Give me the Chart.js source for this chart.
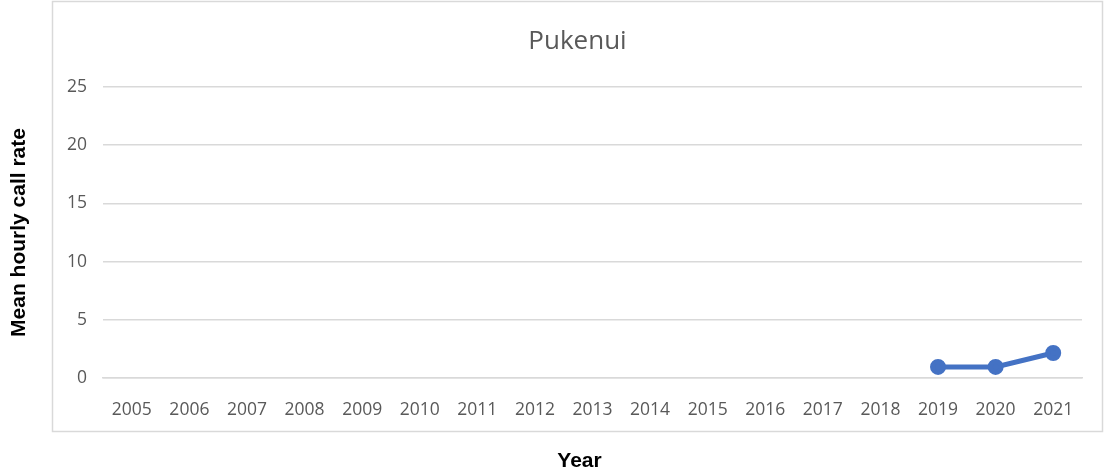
<!DOCTYPE html>
<html lang="en">
<head>
  <meta charset="UTF-8">
  <title>Pukenui - Mean hourly call rate</title>
  <script src="https://cdn.jsdelivr.net/npm/chart.js"></script>
  <style>
    html, body {
      margin: 0;
      padding: 0;
      background: #fff;
    }
    #wrap {
      width: 1105px;
      height: 472px;
    }
  </style>
</head>
<body>
  <div id="wrap"><canvas id="callChart"></canvas></div>

  <script>
    const years = ['2005', '2006', '2007', '2008', '2009', '2010', '2011', '2012', '2013',
                   '2014', '2015', '2016', '2017', '2018', '2019', '2020', '2021'];
    // surveys only started at this site in 2019
    const callRate = [null, null, null, null, null, null, null, null, null,
                      null, null, null, null, null, 0.95, 0.95, 2.15];
    const yTicks = [0, 5, 10, 15, 20, 25];

    const tickColor = '#595959';
    const gridColor = '#d9d9d9';
    const frame = { left: 52.5, top: 1.5, width: 1050, height: 430 };

    // light frame around the plot; chart title centred in the frame,
    // "Year" sits below it, outside the frame
    const framePlugin = {
      id: 'frame',
      beforeDraw(chart) {
        const c = chart.ctx;
        c.save();
        c.fillStyle = '#fff';
        c.fillRect(0, 0, chart.width, chart.height);
        c.strokeStyle = gridColor;
        c.lineWidth = 1.5;
        c.strokeRect(frame.left, frame.top, frame.width, frame.height);
        c.restore();
      },
      afterDraw(chart) {
        const c = chart.ctx;
        const cx = frame.left + frame.width / 2;
        c.save();
        c.textAlign = 'center';
        c.textBaseline = 'middle';
        c.fillStyle = tickColor;
        c.font = '26px "Open Sans"';
        c.fillText('Pukenui', cx, 42);
        c.fillStyle = '#000';
        c.font = 'bold 21px "Liberation Sans"';
        c.fillText('Year', cx + 2, 461);
        c.restore();
      }
    };

    const ctx = document.getElementById('callChart').getContext('2d');

    const callChart = new Chart(ctx, {
      type: 'line',
      data: {
        labels: years,
        datasets: [{
          label: 'Pukenui',
          data: callRate,
          borderColor: '#4472c4',
          backgroundColor: '#4472c4',
          borderWidth: 5,
          pointRadius: 5.5,
          pointHoverRadius: 5.5,
          tension: 0
        }]
      },
      options: {
        responsive: true,
        maintainAspectRatio: false,
        animation: false,
        layout: {
          padding: { top: 87, right: 23, bottom: 0, left: 0 }
        },
        plugins: {
          legend: { display: false },
          tooltip: { enabled: false },
          title: { display: false }
        },
        scales: {
          x: {
            offset: true,
            grid: { display: false },
            border: { display: true, color: gridColor, width: 1.5 },
            ticks: {
              color: tickColor,
              font: { family: 'Open Sans', size: 17.5 },
              padding: 14,
              maxRotation: 0,
              autoSkip: false
            },
            afterFit(scale) { scale.height = 94; }
          },
          y: {
            min: 0,
            max: 25,
            afterBuildTicks(scale) {
              scale.ticks = yTicks.map(v => ({ value: v }));
            },
            grid: { color: gridColor, lineWidth: 1.5, drawTicks: false },
            border: { display: false },
            ticks: {
              color: tickColor,
              font: { family: 'Open Sans', size: 17.5 },
              padding: 16
            },
            title: {
              display: true,
              text: 'Mean hourly call rate',
              color: '#000',
              font: { family: 'Liberation Sans', size: 21, weight: 'bold' },
              padding: { top: 7, bottom: 0 }
            },
            afterFit(scale) { scale.width = 103; }
          }
        }
      },
      plugins: [framePlugin]
    });
  </script>
</body>
</html>
